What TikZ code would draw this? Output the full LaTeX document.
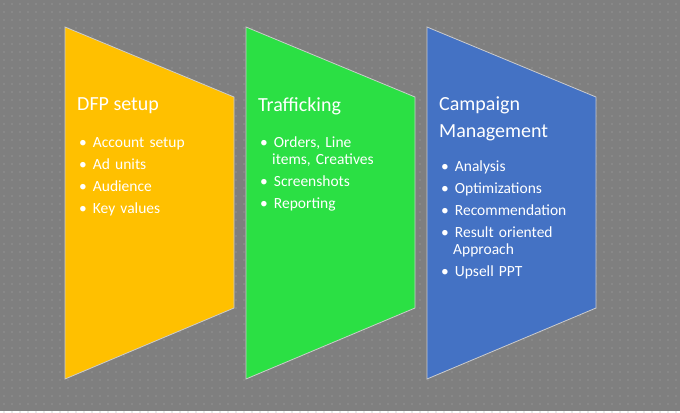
\documentclass[tikz,border=0pt]{standalone}
\usepackage{fontspec}
\setmainfont{Carlito}
\definecolor{bg}{HTML}{7F7F7F}
\definecolor{dotc}{HTML}{A6A6A6}
\definecolor{c1}{HTML}{FFC000}
\definecolor{c2}{HTML}{2BE044}
\definecolor{c3}{HTML}{4472C4}
\begin{document}
\begin{tikzpicture}[x=1pt,y=-1pt,
  panel/.style={draw=white!80!black,line width=0.8pt},
  ttl/.style={anchor=north west,text=white,font=\fontsize{20}{27}\selectfont,align=left,inner sep=0pt},
  bl/.style={anchor=north west,text=white,font=\fontsize{15.5}{16.5}\selectfont,inner sep=0pt,text width=132pt,align=left}]
\fill[bg] (0,0) rectangle (680,411);
\foreach \i in {0,...,84}{\foreach \j in {0,...,51}{\fill[dotc] (\i*8+4,\j*8+4) circle (0.6);}}
\useasboundingbox (0,0) rectangle (680,411);
\newcommand{\panelat}[2]{\fill[#2,panel] (#1,27) -- (#1+169,97) -- (#1+169,308) -- (#1,379) -- cycle;}
\panelat{65}{c1}
\panelat{246}{c2}
\panelat{427}{c3}
\newcommand{\mylistsetup}{\setlength{\leftmargin}{12pt}\setlength{\labelwidth}{6pt}\setlength{\labelsep}{6pt}\setlength{\itemsep}{5.5pt}\setlength{\parsep}{0pt}\setlength{\topsep}{0pt}}
\node[ttl] (t1) at (77,97) {DFP setup};
\node[bl] (b1) at (79,131) {\begin{list}{\textbullet}{\mylistsetup}
\item Account setup \item Ad units \item Audience \item Key values\end{list}};
\node[ttl] (t2) at (258,97) {Trafficking};
\node[bl] (b2) at (260,131) {\begin{list}{\textbullet}{\mylistsetup}
\item Orders, Line items, Creatives \item Screenshots \item Reporting\end{list}};
\node[ttl] (t3) at (439,97) {Campaign\\Management};
\node[bl] (b3) at (441,155) {\begin{list}{\textbullet}{\mylistsetup}
\item Analysis \item Optimizations \item Recommendation \item Result oriented Approach \item Upsell PPT\end{list}};
\end{tikzpicture}
\end{document}
